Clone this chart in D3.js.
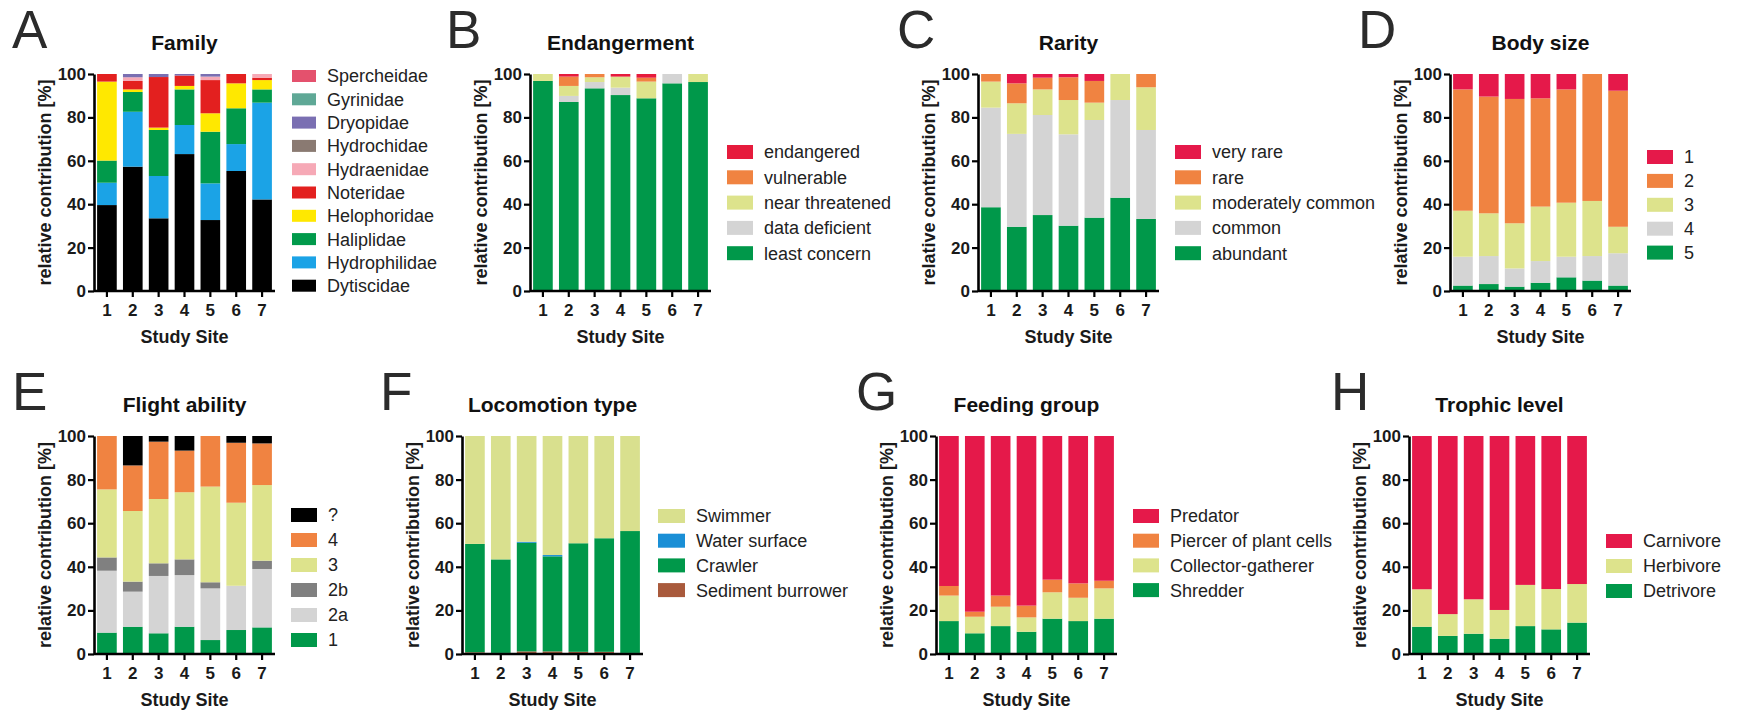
<!DOCTYPE html>
<html>
<head>
<meta charset="utf-8">
<script src="https://cdn.jsdelivr.net/npm/d3@7"></script>
<style>
  html, body { margin: 0; padding: 0; background: #fff; }
  svg { display: block; font-family: "Liberation Sans", Arial, Helvetica, sans-serif; }
</style>
</head>
<body>
<svg id="chart" width="1740" height="713"></svg>
<script>
// ---------------- DATA ----------------
const sites = ["1", "2", "3", "4", "5", "6", "7"];
const yTicks = [0, 20, 40, 60, 80, 100];

// A – Family (stack order bottom -> top), rows = sites
const familyKeys = ["Dytiscidae", "Hydrophilidae", "Haliplidae", "Helophoridae", "Noteridae",
  "Hydraenidae", "Hydrochidae", "Dryopidae", "Gyrinidae", "Spercheidae"];
const familyValues = [
  [39.6, 10.3, 10.2, 36.4, 3.5, 0, 0, 0, 0, 0],
  [57.3, 25.3, 9.1, 1.2, 3.9, 1.7, 0, 1.5, 0, 0],
  [33.5, 19.5, 21.2, 1.1, 23.3, 0, 0, 1.4, 0, 0],
  [63.1, 13.4, 16.4, 1.6, 4.8, 0, 0, 0.7, 0, 0],
  [32.7, 16.9, 23.8, 8.5, 15.3, 1.6, 0, 1.2, 0, 0],
  [55.3, 12.4, 16.5, 11.5, 4.3, 0, 0, 0, 0, 0],
  [42.2, 44.6, 6.1, 4.3, 1.1, 1.7, 0, 0, 0, 0]
];

// B – Endangerment
const endangKeys = ["least concern", "data deficient", "near threatened", "vulnerable", "endangered"];
const endangValues = [
  [96.8, 0, 3.2, 0, 0],
  [87.1, 2.8, 4.6, 4.3, 1.2],
  [93.4, 2.9, 2.2, 1.5, 0],
  [90.3, 3.4, 5.1, 0, 1.2],
  [88.8, 0, 7.7, 1.8, 1.7],
  [95.7, 4.3, 0, 0, 0],
  [96.3, 0, 3.7, 0, 0]
];

// C – Rarity
const rarityKeys = ["abundant", "common", "moderately common", "rare", "very rare"];
const rarityValues = [
  [38.6, 45.9, 12.0, 3.5, 0],
  [29.6, 42.8, 14.1, 9.2, 4.3],
  [35.0, 46.1, 11.8, 5.4, 1.7],
  [30.1, 42.1, 15.8, 10.5, 1.5],
  [33.8, 45.0, 8.0, 10.0, 3.2],
  [43.0, 45.0, 12.0, 0, 0],
  [33.2, 41.0, 19.7, 6.1, 0]
];

// D – Body size
const bodyKeys = ["5", "4", "3", "2", "1"];
const bodyValues = [
  [2.5, 13.3, 21.2, 55.9, 7.1],
  [3.2, 12.9, 19.7, 53.8, 10.4],
  [2.0, 8.4, 20.8, 57.3, 11.5],
  [3.8, 10.0, 25.1, 49.9, 11.2],
  [6.3, 9.5, 24.9, 52.2, 7.1],
  [4.8, 11.3, 25.4, 58.5, 0],
  [2.5, 14.9, 12.2, 62.7, 7.7]
];

// E – Flight ability
const flightKeys = ["1", "2a", "2b", "3", "4", "?"];
const flightValues = [
  [9.8, 28.4, 6.1, 31.2, 24.5, 0],
  [12.5, 16.1, 4.6, 32.4, 20.9, 13.5],
  [9.5, 26.3, 5.8, 29.5, 26.3, 2.6],
  [12.5, 23.7, 7.2, 30.8, 19.1, 6.7],
  [6.4, 23.7, 2.8, 43.9, 23.2, 0],
  [11.0, 20.3, 0, 38.1, 27.5, 3.1],
  [12.2, 26.8, 3.8, 34.7, 19.1, 3.4]
];

// F – Locomotion type
const locoKeys = ["Sediment burrower", "Crawler", "Water surface", "Swimmer"];
const locoValues = [
  [0.8, 49.7, 0, 49.5],
  [0.5, 42.9, 0, 56.6],
  [1.2, 49.8, 0.5, 48.5],
  [1.2, 43.6, 0.6, 54.6],
  [1.0, 49.8, 0, 49.2],
  [1.0, 52.1, 0, 46.9],
  [0.5, 55.9, 0, 43.6]
];

// G – Feeding group
const feedKeys = ["Shredder", "Collector-gatherer", "Piercer of plant cells", "Predator"];
const feedValues = [
  [15.1, 11.7, 4.4, 68.8],
  [9.5, 7.6, 2.3, 80.6],
  [12.8, 8.9, 5.1, 73.2],
  [10.2, 6.6, 5.4, 77.8],
  [16.2, 12.1, 5.8, 65.9],
  [15.1, 10.7, 6.6, 67.6],
  [16.2, 13.9, 3.5, 66.4]
];

// H – Trophic level
const trophKeys = ["Detrivore", "Herbivore", "Carnivore"];
const trophValues = [
  [12.5, 17.2, 70.3],
  [8.3, 10.0, 81.7],
  [9.3, 15.8, 74.9],
  [7.0, 13.2, 79.8],
  [12.8, 18.9, 68.3],
  [11.3, 18.5, 70.2],
  [14.4, 17.7, 67.9]
];

// ---------------- STYLE / LAYOUT ----------------
const C_GREEN = "#00984a", C_GRAY = "#d4d4d4", C_LY = "#dde38c", C_OR = "#f08341",
      C_RED = "#e5194a", C_DGRAY = "#808080";

const panels = [
  { letter: "A", lx: 12, title: "Family", keys: familyKeys, values: familyValues,
    colors: ["#000000", "#1ba3e6", "#019a4b", "#ffe800", "#e3201f", "#f6a9b6", "#8a7a72", "#7a6fb2", "#5fa896", "#e4516d"],
    x0: 94, row: 0, legX: 292, legY: 76, legDy: 23.3, swW: 24, swH: 12 },
  { letter: "B", lx: 446, title: "Endangerment", keys: endangKeys, values: endangValues,
    colors: [C_GREEN, C_GRAY, C_LY, C_OR, "#e61b3c"],
    x0: 530, row: 0, legX: 727, legY: 152, legDy: 25.3, swW: 26, swH: 14 },
  { letter: "C", lx: 897, title: "Rarity", keys: rarityKeys, values: rarityValues,
    colors: [C_GREEN, C_GRAY, C_LY, C_OR, C_RED],
    x0: 978, row: 0, legX: 1175, legY: 152, legDy: 25.3, swW: 26, swH: 14 },
  { letter: "D", lx: 1358, title: "Body size", keys: bodyKeys, values: bodyValues,
    colors: [C_GREEN, C_GRAY, C_LY, C_OR, C_RED],
    x0: 1450, row: 0, legX: 1647, legY: 157, legDy: 23.9, swW: 26, swH: 14 },
  { letter: "E", lx: 12, title: "Flight ability", keys: flightKeys, values: flightValues,
    colors: [C_GREEN, C_GRAY, C_DGRAY, C_LY, C_OR, "#000000"],
    x0: 94, row: 1, legX: 291, legY: 515, legDy: 25, swW: 26, swH: 14 },
  { letter: "F", lx: 380, title: "Locomotion type", keys: locoKeys, values: locoValues,
    colors: ["#a95a3c", C_GREEN, "#1a8fd6", "#d9e08e"],
    x0: 462, row: 1, legX: 658, legY: 516, legDy: 24.7, swW: 27, swH: 14 },
  { letter: "G", lx: 856, title: "Feeding group", keys: feedKeys, values: feedValues,
    colors: [C_GREEN, C_LY, C_OR, C_RED],
    x0: 936, row: 1, legX: 1133, legY: 516, legDy: 24.7, swW: 26, swH: 14 },
  { letter: "H", lx: 1331, title: "Trophic level", keys: trophKeys, values: trophValues,
    colors: [C_GREEN, C_LY, C_RED],
    x0: 1409, row: 1, legX: 1606, legY: 541, legDy: 25, swW: 26, swH: 14 }
];

const rows = [{ top: 74, bottom: 291 }, { top: 436, bottom: 654 }];
const plotW = 181;
const FONT = '"Liberation Sans", Arial, Helvetica, sans-serif';

const svg = d3.select("#chart");

function drawPanel(p) {
  const r = rows[p.row];
  const g = svg.append("g");
  const x = d3.scaleBand().domain(sites).range([p.x0, p.x0 + plotW])
    .paddingInner(0.24).paddingOuter(0.12);
  const y = d3.scaleLinear().domain([0, 100]).range([r.bottom, r.top]);

  const table = sites.map((s, i) => {
    const o = { site: s };
    p.keys.forEach((k, j) => { o[k] = p.values[i][j]; });
    return o;
  });
  const series = d3.stack().keys(p.keys)(table);

  g.append("g").selectAll("g").data(series).join("g")
    .attr("fill", (d, i) => p.colors[i])
    .selectAll("rect").data(d => d).join("rect")
      .attr("x", d => x(d.data.site))
      .attr("width", x.bandwidth())
      .attr("y", d => y(d[1]))
      .attr("height", d => Math.max(0, y(d[0]) - y(d[1])));

  // Y axis
  const ya = g.append("g").attr("transform", `translate(${p.x0},0)`)
    .call(d3.axisLeft(y).tickValues(yTicks).tickSize(6).tickSizeOuter(0).tickPadding(2));
  // X axis
  const xa = g.append("g").attr("transform", `translate(0,${r.bottom})`)
    .call(d3.axisBottom(x).tickSize(6).tickSizeOuter(0).tickPadding(7));
  xa.select(".domain").attr("d", `M${p.x0},0H${p.x0 + plotW}`);
  [ya, xa].forEach(a => {
    a.select(".domain").attr("stroke", "#000").attr("stroke-width", 2.6);
    a.selectAll(".tick line").attr("stroke", "#000").attr("stroke-width", 2.2);
    a.selectAll(".tick text").attr("fill", "#1a1a1a")
      .attr("font-family", FONT).attr("font-size", 17).attr("font-weight", "bold");
  });

  const cx = p.x0 + plotW / 2;
  // Title
  g.append("text").attr("x", cx).attr("y", r.top - 24)
    .attr("text-anchor", "middle").attr("font-size", 21).attr("font-weight", "bold")
    .attr("fill", "#111").text(p.title);
  // X label
  g.append("text").attr("x", cx).attr("y", r.bottom + 52)
    .attr("text-anchor", "middle").attr("font-size", 18).attr("font-weight", "bold")
    .attr("fill", "#1a1a1a").text("Study Site");
  // Y label
  g.append("text")
    .attr("transform", `translate(${p.x0 - 49},${(r.top + r.bottom) / 2}) rotate(-90)`)
    .attr("text-anchor", "middle").attr("dy", "0.35em")
    .attr("font-size", 18).attr("font-weight", "bold").attr("fill", "#1a1a1a")
    .text("relative contribution [%]");
  // Panel letter
  g.append("text").attr("x", p.lx).attr("y", r.top - 26)
    .attr("font-size", 53).attr("fill", "#2b2b2b").text(p.letter);

  // Legend (top category first)
  const legendKeys = p.keys.map((k, i) => ({ k, c: p.colors[i] })).reverse();
  const lg = g.append("g");
  const items = lg.selectAll("g").data(legendKeys).join("g")
    .attr("transform", (d, i) => `translate(${p.legX},${p.legY + i * p.legDy})`);
  items.append("rect").attr("x", 0).attr("y", -p.swH / 2)
    .attr("width", p.swW).attr("height", p.swH).attr("fill", d => d.c);
  items.append("text").attr("x", p.swW + 11).attr("y", 0).attr("dy", "0.36em")
    .attr("font-size", 18).attr("fill", "#222").text(d => d.k);
}

panels.forEach(drawPanel);
</script>
</body>
</html>
